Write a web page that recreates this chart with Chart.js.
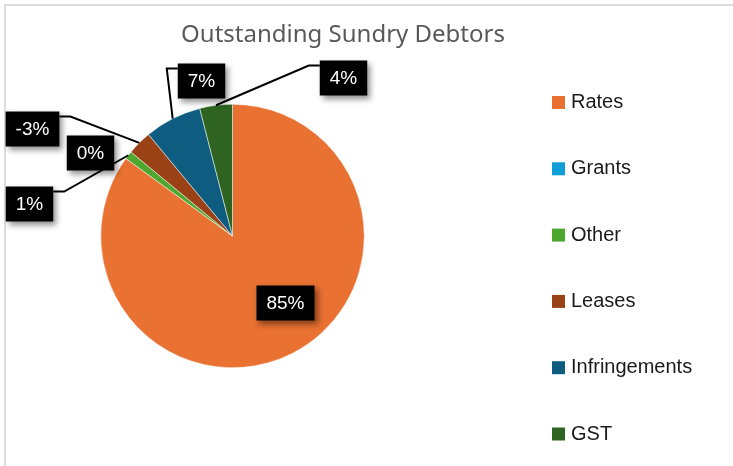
<!DOCTYPE html>
<html>
<head>
<meta charset="utf-8">
<script src="https://cdn.jsdelivr.net/npm/chart.js@4.4.1/dist/chart.umd.min.js"></script>
<style>
  html, body { margin: 0; padding: 0; background: #ffffff; }
  #wrap { position: relative; width: 733px; height: 466px; }
</style>
</head>
<body>
<div id="wrap"><canvas id="debtors"></canvas></div>
<script>
// sundry debtors by category, share of total (%)
var categories = ['Rates', 'Grants', 'Other', 'Leases', 'Infringements', 'GST'];
var shares = [85, 0, 1, -3, 7, 4];
var sliceColours = ['#E97132', '#0F9ED5', '#4EA72E', '#9A4115', '#0E5D80', '#2E6322'];
var chartTitle = 'Outstanding Sundry Debtors';

// where each value box sits, relative to the pie centre
var boxOffsets = [[53, 67], [-142, -83], [-203, -32], [-200, -107], [-31, -155], [111, -158]];
var boxFont = '19px "Liberation Sans", Arial, sans-serif';

function drawBox(ctx, text, cx, cy) {
    ctx.font = boxFont;
    var w = ctx.measureText(text).width + 20;
    var h = 35;
    ctx.save();
    ctx.shadowColor = 'rgba(0,0,0,0.45)';
    ctx.shadowBlur = 6;
    ctx.shadowOffsetX = 3;
    ctx.shadowOffsetY = 3;
    ctx.fillStyle = '#000000';
    ctx.fillRect(cx - w / 2, cy - h / 2, w, h);
    ctx.restore();
    ctx.fillStyle = '#ffffff';
    ctx.textAlign = 'center';
    ctx.textBaseline = 'middle';
    ctx.fillText(text, cx, cy + 1);
}

var extras = {
    id: 'extras',
    beforeDraw: function(chart) {
        var ctx = chart.ctx;
        ctx.save();
        ctx.fillStyle = '#dcdcdc';
        ctx.fillRect(4, 4, chart.width - 4, 2);
        ctx.fillRect(4, 4, 2, chart.height - 4);
        ctx.restore();
    },
    afterDraw: function(chart) {
        var ctx = chart.ctx;
        var arcs = chart.getDatasetMeta(0).data;
        ctx.save();

        // title
        ctx.fillStyle = '#595959';
        ctx.font = '24px "Noto Sans", sans-serif';
        ctx.textAlign = 'center';
        ctx.textBaseline = 'middle';
        ctx.fillText(chartTitle, 343, 35);

        // legend
        ctx.font = '20px "Liberation Sans", Arial, sans-serif';
        ctx.textAlign = 'left';
        for (var i = 0; i < categories.length; i++) {
            var y = 102.5 + i * 66.3;
            ctx.fillStyle = sliceColours[i];
            ctx.fillRect(552, y - 6.5, 13, 13);
            ctx.fillStyle = '#1a1a1a';
            ctx.fillText(categories[i], 571, y);
        }

        // value boxes with leader lines
        var cx0 = arcs[0].x, cy0 = arcs[0].y;
        var boxes = [];
        for (var j = 0; j < arcs.length; j++) {
            var a = arcs[j];
            var bx = cx0 + boxOffsets[j][0], by = cy0 + boxOffsets[j][1];
            ctx.font = boxFont;
            var bw = ctx.measureText(shares[j] + '%').width + 20;
            boxes.push({ x: bx, y: by });
            if (j === 0 || shares[j] === 0) continue;
            var mid = (a.startAngle + a.endAngle) / 2;
            var ax = a.x + Math.cos(mid) * a.outerRadius;
            var ay = a.y + Math.sin(mid) * a.outerRadius;
            var ly = by - 35 / 2 + 5;
            var side = bx > ax ? bx - bw / 2 : bx + bw / 2;
            var ex = bx > ax ? side - 11 : side + 11;
            ctx.strokeStyle = '#000000';
            ctx.lineWidth = 2;
            ctx.beginPath();
            ctx.moveTo(ax, ay);
            ctx.lineTo(ex, ly);
            ctx.lineTo(side, ly);
            ctx.stroke();
        }
        for (var k = 0; k < boxes.length; k++) {
            drawBox(ctx, shares[k] + '%', boxes[k].x, boxes[k].y);
        }
        ctx.restore();
    }
};

new Chart(document.getElementById('debtors'), {
    type: 'pie',
    data: {
        labels: categories,
        datasets: [{
            // negative shares are drawn by their size
            data: shares.map(function(v) { return Math.abs(v); }),
            backgroundColor: sliceColours,
            borderColor: '#ffffff',
            borderWidth: 0.5
        }]
    },
    options: {
        responsive: true,
        maintainAspectRatio: false,
        animation: false,
        layout: { padding: { left: 100, right: 368, top: 104, bottom: 98 } },
        plugins: {
            legend: { display: false },
            title: { display: false },
            tooltip: { enabled: false }
        }
    },
    plugins: [extras]
});
</script>
</body>
</html>
